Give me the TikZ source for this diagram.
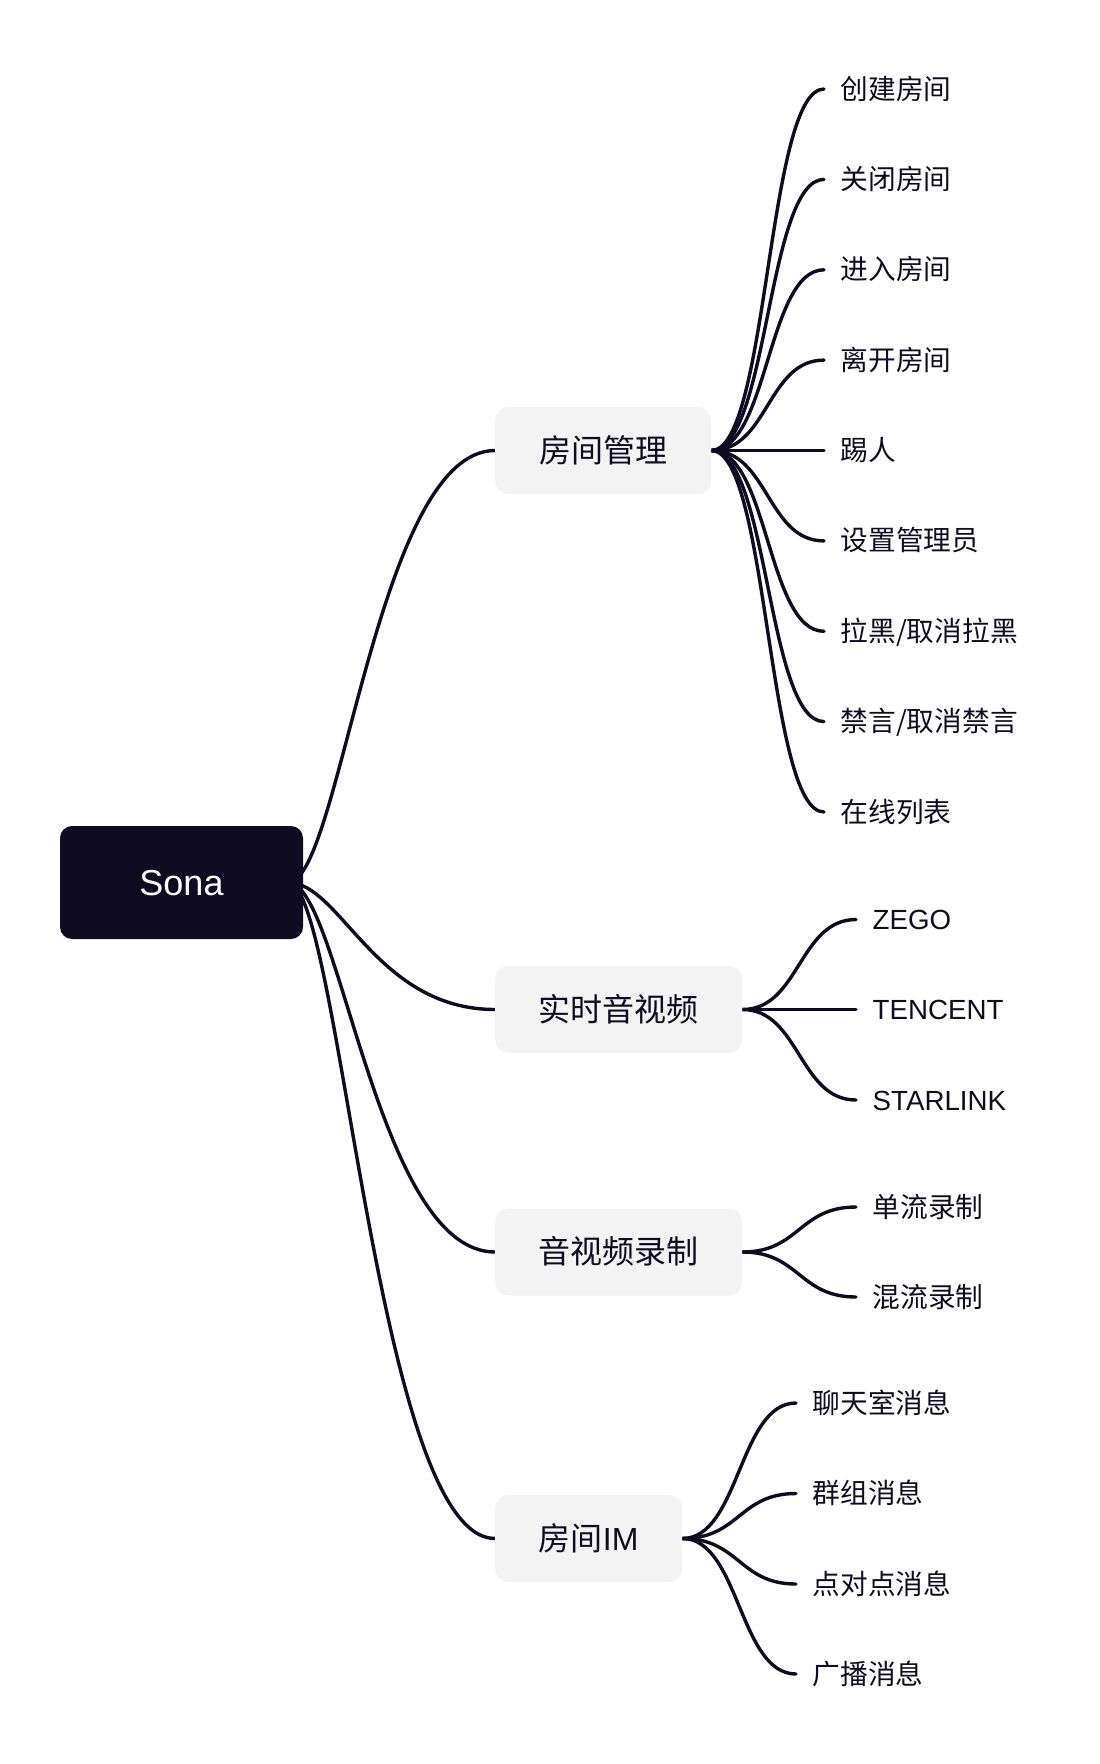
\documentclass[tikz,border=0pt]{standalone}
\usepackage{fontspec}
\setmainfont{Liberation Sans}
\newfontfamily\cjk{Noto Sans CJK SC}
\usetikzlibrary{calc,backgrounds}
\definecolor{ink}{HTML}{0F0C22}
\definecolor{boxgray}{HTML}{F3F3F3}
\begin{document}
\begin{tikzpicture}[x=1pt,y=-1pt,
  leaf/.style={anchor=west, inner xsep=16.5pt, inner ysep=0pt, text=ink,
    font=\fontsize{27.7}{33}\selectfont, text height=23pt, text depth=3pt},
  midbox/.style={anchor=west, fill=boxgray, rounded corners=13pt, minimum height=87pt,
    inner sep=0pt, text=ink, font=\fontsize{32}{38}\selectfont, text height=27pt, text depth=3.5pt},
  rootbox/.style={fill=ink, rounded corners=12pt, minimum width=243pt, minimum height=113pt,
    inner sep=0pt, text=white, font=\fontsize{36}{43}\selectfont, text height=28pt, text depth=2.6pt},
  link/.style={draw=ink, line width=3.4pt, line cap=round}]
\useasboundingbox (0,0) rectangle (1100,1764);

\node[rootbox] (sona) at (181.5,882.5) {Sona};

\node[midbox, minimum width=216pt] (m1) at (495,450.5) {\cjk 房间管理};
\node[midbox, minimum width=247pt] (m2) at (495,1009.5) {\cjk 实时音视频};
\node[midbox, minimum width=247pt] (m3) at (495,1252) {\cjk 音视频录制};
\node[midbox, minimum width=187pt] (m4) at (495,1538.5) {{\cjk 房间}IM};

\node[leaf] (a1) at (824,89) {\cjk 创建房间};
\node[leaf] (a2) at (824,179.4) {\cjk 关闭房间};
\node[leaf] (a3) at (824,269.8) {\cjk 进入房间};
\node[leaf] (a4) at (824,360.1) {\cjk 离开房间};
\node[leaf] (a5) at (824,450.5) {\cjk 踢人};
\node[leaf] (a6) at (824,540.9) {\cjk 设置管理员};
\node[leaf] (a7) at (824,631.3) {\cjk 拉黑/取消拉黑};
\node[leaf] (a8) at (824,721.6) {\cjk 禁言/取消禁言};
\node[leaf] (a9) at (824,812) {\cjk 在线列表};

\node[leaf] (b1) at (856,919.5) {ZEGO};
\node[leaf] (b2) at (856,1009.5) {TENCENT};
\node[leaf] (b3) at (856,1100) {STARLINK};

\node[leaf] (c1) at (856,1207) {\cjk 单流录制};
\node[leaf] (c2) at (856,1297) {\cjk 混流录制};

\node[leaf] (d1) at (796,1403) {\cjk 聊天室消息};
\node[leaf] (d2) at (796,1493.5) {\cjk 群组消息};
\node[leaf] (d3) at (796,1584) {\cjk 点对点消息};
\node[leaf] (d4) at (796,1674) {\cjk 广播消息};

\begin{scope}[on background layer]
  \fill[white] (0,0) rectangle (1100,1764);
  \foreach \c in {m1,m2,m3,m4}
    \draw[link] ($(sona.east)+(-15,0)$) .. controls +(52,0) and +(-119,0) .. (\c.west);
  \foreach \i in {1,...,9}
    \draw[link] (m1.east) .. controls +(57,0) and +(-57,0) .. (a\i.west);
  \foreach \i in {1,2,3}
    \draw[link] (m2.east) .. controls +(57,0) and +(-57,0) .. (b\i.west);
  \foreach \i in {1,2}
    \draw[link] (m3.east) .. controls +(57,0) and +(-57,0) .. (c\i.west);
  \foreach \i in {1,...,4}
    \draw[link] (m4.east) .. controls +(57,0) and +(-57,0) .. (d\i.west);
\end{scope}
\end{tikzpicture}
\end{document}
